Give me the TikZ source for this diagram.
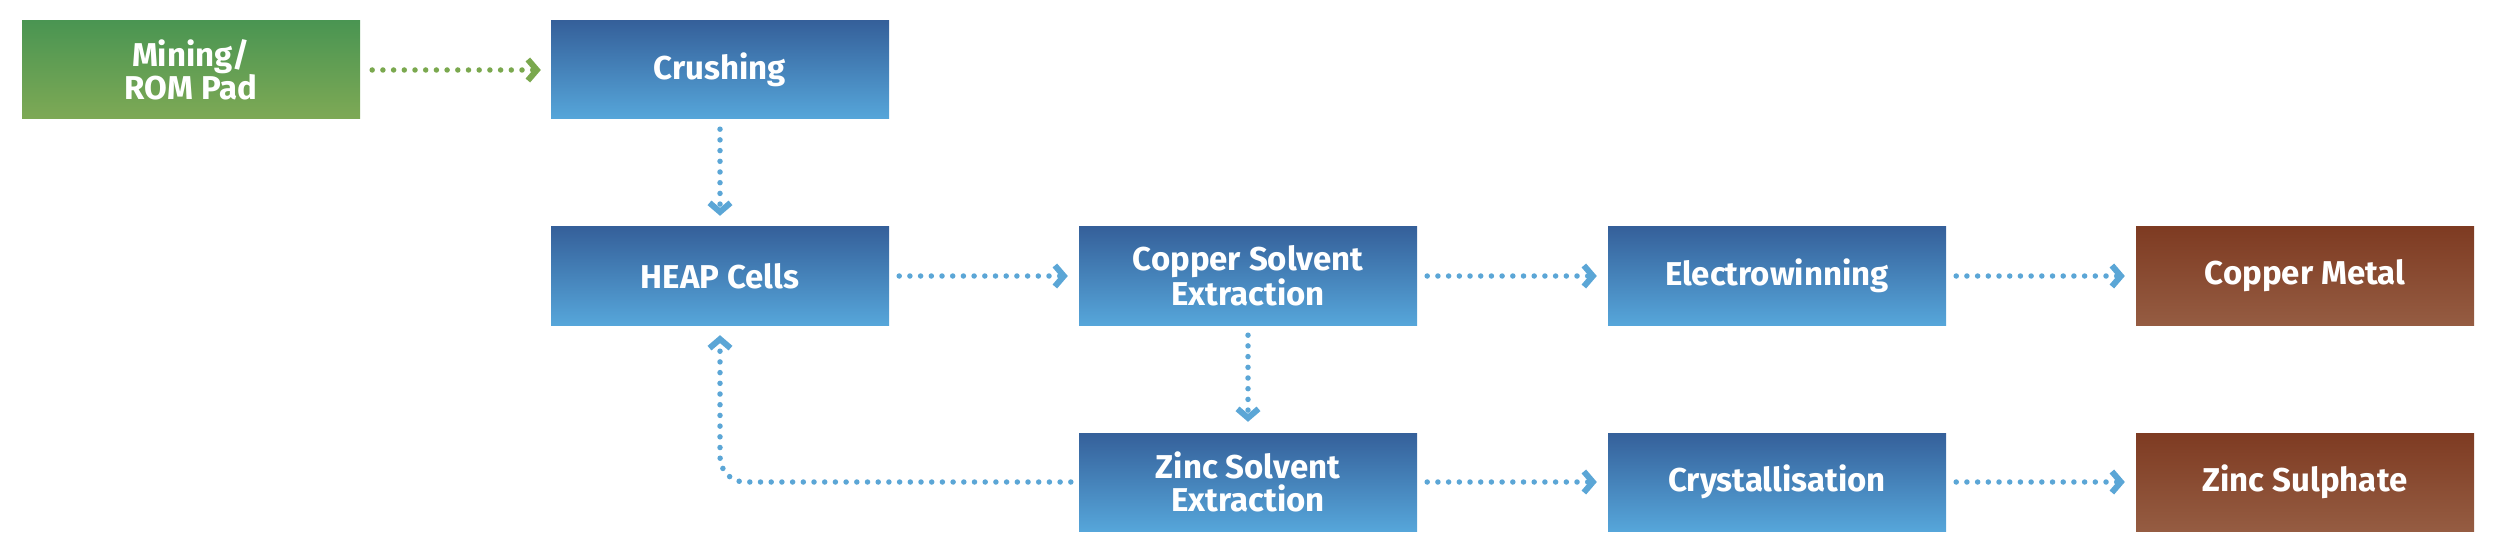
\documentclass[tikz,border=0pt]{standalone}
\usepackage{fontspec}
\setmainfont{Fira Sans}
\usetikzlibrary{arrows.meta}
\definecolor{bTop}{HTML}{35609A}
\definecolor{bBot}{HTML}{56A6DA}
\definecolor{gTop}{HTML}{4A9552}
\definecolor{gBot}{HTML}{7EA955}
\definecolor{rTop}{HTML}{7E3B22}
\definecolor{rBot}{HTML}{955C42}
\definecolor{arrB}{HTML}{5BA6D6}
\definecolor{arrG}{HTML}{7AA84E}
\begin{document}
\begin{tikzpicture}[x=1pt,y=-1pt,
  box/.style={minimum width=338pt, minimum height=98pt, inner sep=0pt, text=white,
    font=\bfseries\fontsize{33}{33}\selectfont, align=center},
  bluebox/.style={box, top color=bTop, bottom color=bBot},
  greenbox/.style={box, top color=gTop, bottom color=gBot},
  brownbox/.style={box, top color=rTop, bottom color=rBot},
  flow/.style={line width=5.5pt, line cap=round, dash pattern=on 0pt off 10.7pt,
    -{Straight Barb[length=9pt,width=21pt,line width=6pt]}, draw=arrB},
  gflow/.style={flow, draw=arrG}
]
\useasboundingbox (0,0) rectangle (2500,548);
\node[greenbox] (mine) at (191,70) {Mining/\\ROM Pad};
\node[bluebox] (crush) at (720,70) {Crushing};
\node[bluebox] (heap) at (720,276) {HEAP Cells};
\node[bluebox] (cusx) at (1248,276) {Copper Solvent\\Extraction};
\node[bluebox] (ew) at (1777,276) {Electrowinning};
\node[brownbox] (cu) at (2305,276) {Copper Metal};
\node[bluebox] (znsx) at (1248,482) {Zinc Solvent\\Extraction};
\node[bluebox] (cry) at (1777,482) {Crystallisation};
\node[brownbox] (zn) at (2305,482) {Zinc Sulphate};

\draw[gflow, shorten <=12pt, shorten >=10pt] (mine) -- (crush);
\draw[flow, shorten <=10pt, shorten >=11pt] (crush) -- (heap);
\draw[flow, shorten <=10pt, shorten >=11pt] (heap) -- (cusx);
\draw[flow, shorten <=10pt, shorten >=11pt] (cusx) -- (ew);
\draw[flow, shorten <=10pt, shorten >=11pt] (ew) -- (cu);
\draw[flow, shorten <=10pt, shorten >=11pt] (cusx) -- (znsx);
\draw[flow, shorten <=10pt, shorten >=11pt] (znsx) -- (cry);
\draw[flow, shorten <=10pt, shorten >=11pt] (cry) -- (zn);
\draw[flow, rounded corners=25pt, shorten <=8pt, shorten >=10pt] (znsx.west) -| (heap.south);
\end{tikzpicture}
\end{document}
